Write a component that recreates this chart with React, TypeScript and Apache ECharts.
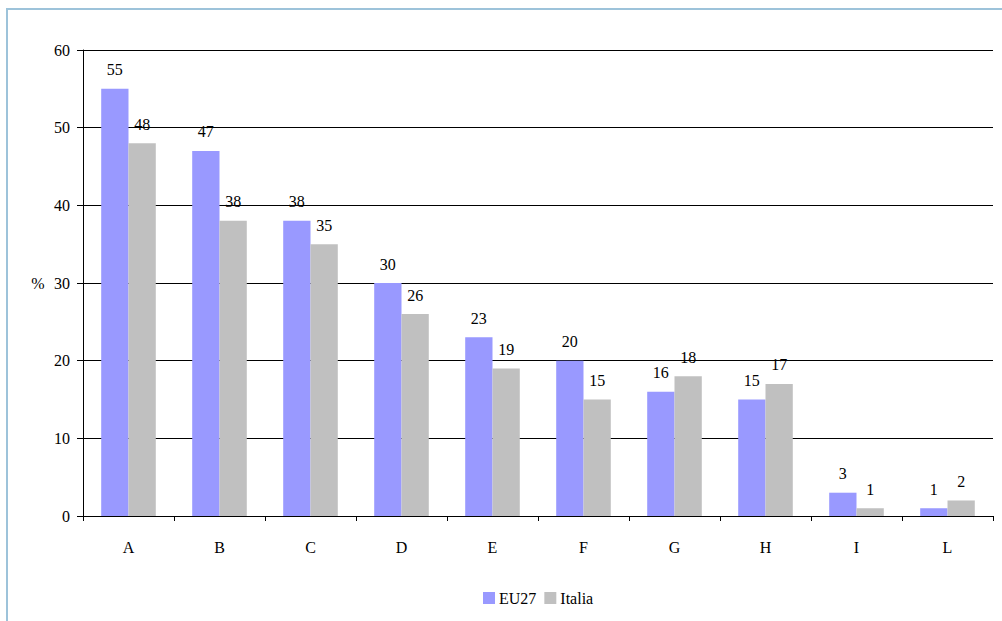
import React, { useEffect, useRef } from "react";
import * as echarts from "echarts";

const categories = ["A", "B", "C", "D", "E", "F", "G", "H", "I", "L"];
const eu27 = [55, 47, 38, 30, 23, 20, 16, 15, 3, 1];
const italia = [48, 38, 35, 26, 19, 15, 18, 17, 1, 2];
const seriesNames = ["EU27", "Italia"];

const FONT = "Liberation Serif";
const FS = 16;

export default function App() {
  const ref = useRef<HTMLDivElement>(null);
  useEffect(() => {
    if (!ref.current) return;
    const chart = echarts.init(ref.current, null, { renderer: "svg" });
    const labelStyle = {
      show: true,
      position: "top" as const,
      distance: 11,
      fontFamily: FONT,
      fontSize: FS,
      color: "#000",
    };
    chart.setOption({
      animation: false,
      backgroundColor: "#fff",
      textStyle: { fontFamily: FONT, fontSize: FS },
      graphic: [
        {
          type: "rect",
          shape: { x: 7, y: 9, width: 1100, height: 700 },
          style: { fill: "none", stroke: "#9DC3DA", lineWidth: 2 },
          silent: true,
        },
        {
          type: "text",
          x: 38,
          y: 283,
          style: {
            text: "%",
            fontFamily: FONT,
            fontSize: FS,
            fill: "#000",
            align: "center",
            verticalAlign: "middle",
          },
        },
      ],
      legend: {
        bottom: 10,
        left: 478,
        itemWidth: 12,
        itemHeight: 12,
        itemGap: 8,
        icon: "rect",
        textStyle: { fontFamily: FONT, fontSize: FS, color: "#000", padding: [0, 0, 0, -1] },
        data: seriesNames,
      },
      grid: { left: 83, right: 9, top: 50, bottom: 105, containLabel: false },
      xAxis: {
        type: "category",
        data: categories,
        axisLine: { lineStyle: { color: "#000", width: 1 } },
        axisTick: { show: true, length: 5, lineStyle: { color: "#000" } },
        axisLabel: { fontFamily: FONT, fontSize: FS, color: "#000", margin: 23 },
      },
      yAxis: {
        type: "value",
        min: 0,
        max: 60,
        interval: 10,
        axisLine: { show: true, lineStyle: { color: "#000", width: 1 } },
        axisTick: { show: true, length: 6, lineStyle: { color: "#000" } },
        axisLabel: { fontFamily: FONT, fontSize: FS, color: "#000", margin: 13 },
        splitLine: { show: true, lineStyle: { color: "#000", width: 1 } },
      },
      series: [
        {
          name: seriesNames[0],
          type: "bar",
          data: eu27,
          barGap: "0%",
          barCategoryGap: "40%",
          itemStyle: { color: "#9999FF" },
          label: labelStyle,
        },
        {
          name: seriesNames[1],
          type: "bar",
          data: italia,
          barGap: "0%",
          barCategoryGap: "40%",
          itemStyle: { color: "#C0C0C0" },
          label: labelStyle,
        },
      ],
    });
    return () => chart.dispose();
  }, []);
  return (
    <div
      ref={ref}
      style={{ position: "absolute", left: 0, top: 0, width: 1002, height: 621 }}
    />
  );
}
